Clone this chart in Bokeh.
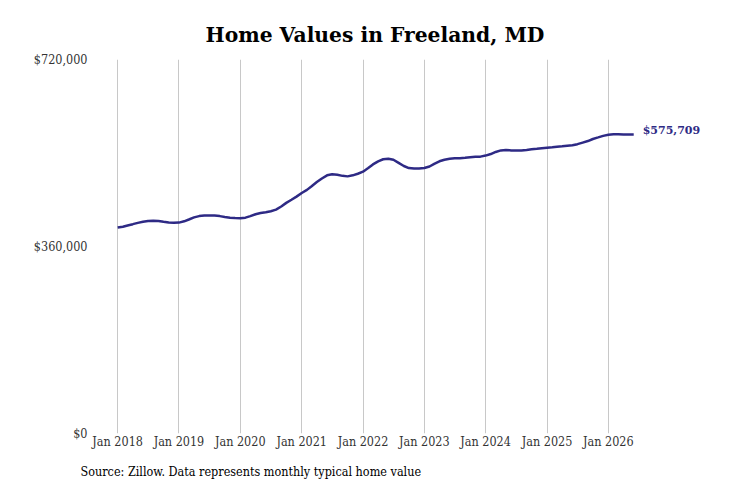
import pandas as pd
from bokeh.plotting import figure
from bokeh.models import Label, Title, FixedTicker, DatetimeTickFormatter, NumeralTickFormatter
from bokeh.embed import file_html
from bokeh.resources import INLINE

title_text = "Home Values in Freeland, MD"
source_text = "Source: Zillow. Data represents monthly typical home value"
start_month = "2018-01-01"
tick_years = [2018, 2019, 2020, 2021, 2022, 2023, 2024, 2025, 2026]
y_ticks = [0, 360000, 720000]

values_2018 = [396600, 398000, 400500, 403000, 405500, 407500, 409000, 409500, 409000, 407500, 406000, 405500]
values_2019 = [406000, 408500, 412000, 416000, 418500, 419500, 419700, 419500, 418500, 417000, 415500, 414800]
values_2020 = [414500, 415500, 418500, 422000, 424500, 426000, 428000, 431000, 437000, 444000, 450000, 456000]
values_2021 = [463000, 469000, 476000, 484000, 491000, 497000, 499000, 498000, 496000, 495000, 497000, 500000]
values_2022 = [504000, 511000, 518000, 524000, 528000, 529000, 527000, 521000, 515000, 511000, 510000, 510000]
values_2023 = [511000, 514000, 519000, 524000, 527000, 529000, 530000, 530000, 531000, 532000, 533000, 533000]
values_2024 = [535000, 538000, 542000, 545000, 546000, 545000, 545000, 545000, 546000, 547000, 548000, 549000]
values_2025 = [550000, 551000, 552000, 553000, 554000, 555000, 557000, 560000, 563000, 567000, 570000, 573000]
values_2026 = [575000, 576000, 576000, 575800, 575700, 575709]

values = (values_2018 + values_2019 + values_2020 + values_2021 + values_2022
          + values_2023 + values_2024 + values_2025 + values_2026)
dates = pd.date_range(start_month, periods=len(values), freq="MS")

line_color = "#2e2a85"
serif = "DejaVu Serif"
serif_c = "DejaVu Serif Condensed"

x_start = pd.Timestamp("2017-08-22")
x_end = pd.Timestamp("2027-10-01")

p = figure(frame_width=620, frame_height=374, x_axis_type="datetime",
           x_range=(x_start, x_end), y_range=(0, 720000),
           output_backend="svg", toolbar_location=None,
           min_border_left=95, min_border_right=16, min_border_top=59, min_border_bottom=54)
p.outline_line_color = None
p.background_fill_color = "white"
p.border_fill_color = "white"

p.line(dates, values, line_color=line_color, line_width=2.5)

last_label = Label(x=dates[-1], y=values[-1], text="${:,.0f}".format(values[-1]),
                   x_offset=9, y_offset=4, text_baseline="middle",
                   text_font=serif, text_font_style="bold", text_font_size="11px",
                   text_color=line_color)
p.add_layout(last_label)

tick_ms = [pd.Timestamp(f"{yr}-01-01").value // 10**6 for yr in tick_years]
p.xaxis.ticker = FixedTicker(ticks=tick_ms)
p.xaxis.formatter = DatetimeTickFormatter(years="%b %Y", months="%b %Y", days="%b %Y",
                                          hours="%b %Y", minutes="%b %Y", seconds="%b %Y",
                                          milliseconds="%b %Y", microseconds="%b %Y")
p.yaxis.ticker = FixedTicker(ticks=y_ticks)
p.yaxis.formatter = NumeralTickFormatter(format="$0,0")

for ax in (p.xaxis, p.yaxis):
    ax.axis_line_color = None
    ax.major_tick_line_color = None
    ax.minor_tick_line_color = None
    ax.major_label_text_font = serif_c
    ax.major_label_text_font_size = "12.5px"
    ax.major_label_text_color = "#333333"
p.xaxis.major_label_standoff = -6
p.yaxis.major_label_standoff = 2

p.xgrid.grid_line_color = "#c8c8c8"
p.xgrid.grid_line_width = 1
p.ygrid.grid_line_color = None

p.title = Title(text=title_text, align="left", offset=110,
                text_font=serif, text_font_style="bold", text_font_size="20.3px",
                text_color="black", standoff=26)

src = Title(text=source_text, align="left", offset=-15,
            text_font=serif_c, text_font_style="normal", text_font_size="12.5px",
            text_color="black", standoff=21)
p.add_layout(src, "below")

open("out.html", "w").write(file_html(p, INLINE))
